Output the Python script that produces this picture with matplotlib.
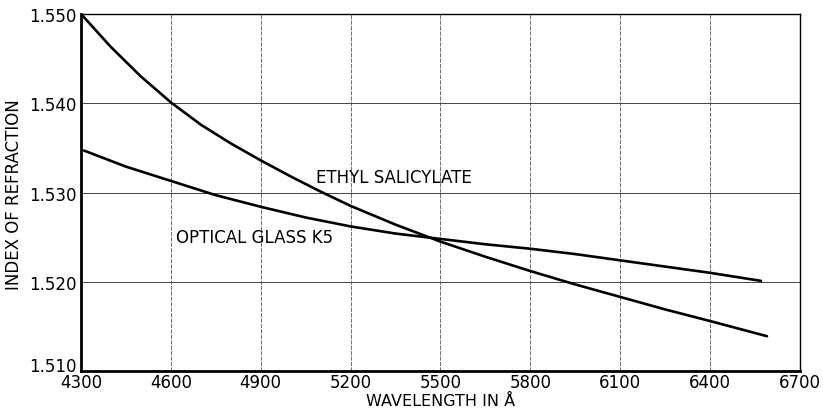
import matplotlib
matplotlib.use('Agg')
import matplotlib.pyplot as plt
from matplotlib.transforms import ScaledTranslation

# values
ethyl_wl = [4300, 4400, 4500, 4600, 4700, 4800, 4900, 5000, 5100, 5200, 5350, 5500, 5650, 5800, 5950, 6100, 6250, 6400, 6590]
ethyl_n = [1.5500, 1.5463, 1.5430, 1.5401, 1.5376, 1.5355, 1.5336, 1.5318, 1.5301, 1.5285, 1.5264, 1.5245, 1.5228, 1.5212, 1.5197, 1.5183, 1.5169, 1.5156, 1.5139]

glass_wl = [4310, 4450, 4600, 4750, 4900, 5050, 5200, 5350, 5500, 5650, 5800, 5950, 6100, 6250, 6400, 6570]
glass_n = [1.5347, 1.5329, 1.5313, 1.5297, 1.5284, 1.5272, 1.5262, 1.5254, 1.5248, 1.5242, 1.5237, 1.5231, 1.5224, 1.5217, 1.5210, 1.5201]

x_ticks = [4300, 4600, 4900, 5200, 5500, 5800, 6100, 6400, 6700]
y_ticks = [1.510, 1.520, 1.530, 1.540, 1.550]

fig = plt.figure(figsize=(8.23, 4.14), dpi=100)
ax = fig.add_axes([0.0984, 0.1014, 0.8736, 0.8624])

# grid by hand so horizontal and vertical can differ
for yt in y_ticks[1:-1]:
    ax.axhline(yt, color='#444444', lw=0.7, zorder=1)
for xt in x_ticks[1:-1]:
    ax.axvline(xt, color='#555555', lw=0.6, ls=(0, (5, 1.5)), zorder=1)

ax.plot(ethyl_wl, ethyl_n, color='black', lw=1.9, solid_capstyle='round', zorder=3)
ax.plot(glass_wl, glass_n, color='black', lw=1.9, solid_capstyle='round', zorder=3)

ax.text(5085, 1.5317, 'ETHYL SALICYLATE', fontsize=12, ha='left', va='center')
ax.text(4617, 1.5250, 'OPTICAL GLASS K5', fontsize=12, ha='left', va='center')

ax.set_xlim(4300, 6700)
ax.set_ylim(1.510, 1.550)
ax.set_xticks(x_ticks)
ax.set_yticks(y_ticks)
ax.set_yticklabels(['1.510', '1.520', '1.530', '1.540', '1.550'])
ax.tick_params(length=0, labelsize=12)
ax.tick_params(axis='x', pad=1.5)
ax.tick_params(axis='y', pad=3)

# bottom y label sits a bit higher so it clears 4300
lab = ax.get_yticklabels()[0]
lab.set_transform(lab.get_transform() + ScaledTranslation(0, 5 / 72, fig.dpi_scale_trans))

for s in ['left', 'bottom']:
    ax.spines[s].set_linewidth(2.0)
for s in ['top', 'right']:
    ax.spines[s].set_linewidth(1.0)

ax.set_xlabel('WAVELENGTH IN Å', fontsize=11.5)
ax.xaxis.set_label_coords(0.5, -0.062)
ax.set_ylabel('INDEX OF REFRACTION', fontsize=12)
ax.yaxis.set_label_coords(-0.081, 0.496)

fig.savefig('out.png', dpi=100)
